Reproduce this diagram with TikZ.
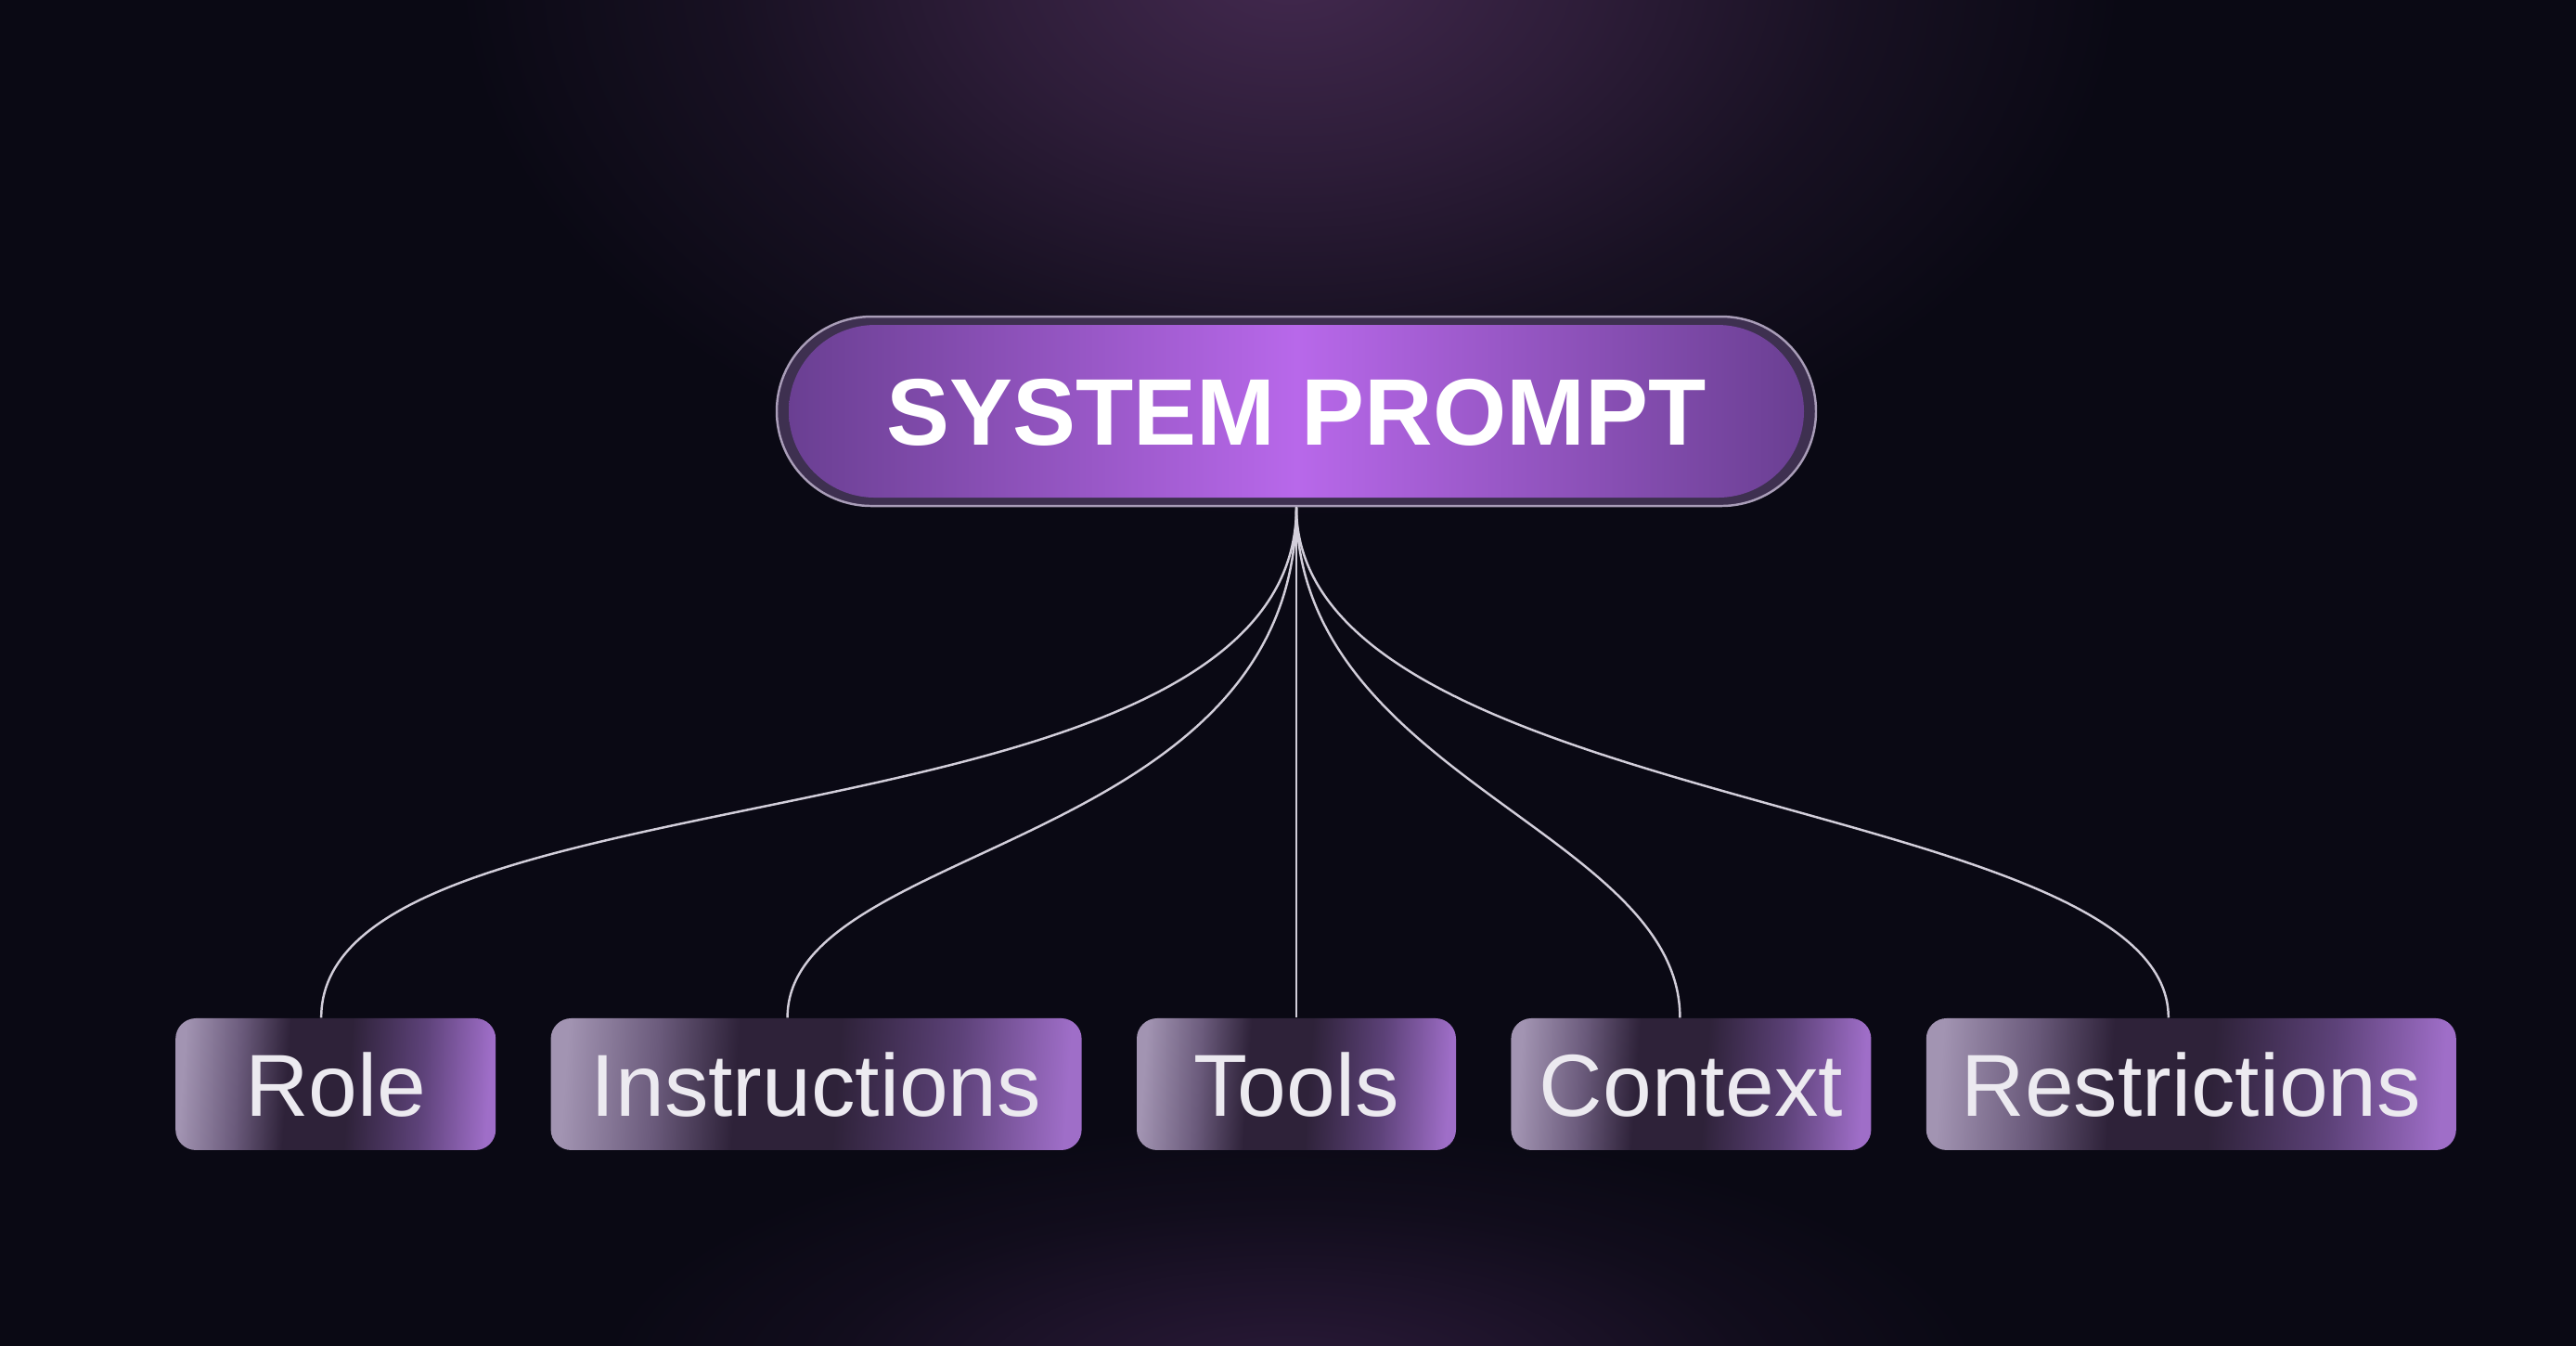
\documentclass[tikz,border=0pt]{standalone}
\usepackage{fontspec}
\setmainfont{Liberation Sans}
\usepackage{xcolor}
\usepackage{tikz}
\usetikzlibrary{positioning}

% colours
\definecolor{bgdark}{HTML}{0A0914}
\definecolor{glowtop}{HTML}{43294F}
\definecolor{glowlow}{HTML}{2B1A39}
\colorlet{glowtopB}{glowtop!62!bgdark}
\colorlet{glowtopC}{glowtop!24!bgdark}
\colorlet{glowlowB}{glowlow!60!bgdark}
\colorlet{glowlowC}{glowlow!22!bgdark}
\definecolor{rimline}{HTML}{A99DB8}
\definecolor{rimfill}{HTML}{3E3050}
\definecolor{pillside}{HTML}{683E90}
\definecolor{pillmid}{HTML}{B868EA}
\definecolor{chipA}{HTML}{A294B2}
\definecolor{chipB}{HTML}{6B5B7C}
\definecolor{chipC}{HTML}{2E2239}
\definecolor{chipD}{HTML}{5D4279}
\definecolor{chipE}{HTML}{9F6EC8}
\definecolor{chiptext}{HTML}{ECEAF0}
\definecolor{linkgray}{HTML}{D2CEDA}

% shadings
\pgfdeclareradialshading{topglow}{\pgfpointorigin}{color(0bp)=(glowtop); color(9bp)=(glowtopB); color(17bp)=(glowtopC); color(25bp)=(bgdark); color(50bp)=(bgdark)}
\pgfdeclareradialshading{lowglow}{\pgfpointorigin}{color(0bp)=(glowlow); color(9bp)=(glowlowB); color(17bp)=(glowlowC); color(25bp)=(bgdark); color(50bp)=(bgdark)}
\pgfdeclarehorizontalshading{chipshade}{100bp}{color(0bp)=(chipA); color(25bp)=(chipA); color(34bp)=(chipB); color(42bp)=(chipC); color(52bp)=(chipC); color(64bp)=(chipD); color(75bp)=(chipE); color(100bp)=(chipE)}

\tikzset{
  sysbox/.style={rectangle, rounded corners=1.02cm, minimum width=11.2cm, minimum height=2.04cm,
    draw=rimline, line width=0.7pt, fill=rimfill, text=white,
    font=\fontsize{29pt}{34pt}\selectfont\bfseries, text height=20.8pt, text depth=0pt,
    path picture={\shade[left color=pillside, right color=pillside, middle color=pillmid, rounded corners=0.93cm]
      ([shift={(0.13,0.09)}]path picture bounding box.south west) rectangle
      ([shift={(-0.13,-0.09)}]path picture bounding box.north east);}},
  chip/.style={rectangle, rounded corners=0.22cm, shade, shading=chipshade, shading angle=-4,
    minimum height=1.42cm,
    text=chiptext, font=\fontsize{27pt}{32pt}\selectfont, text height=19.4pt, text depth=0pt},
  link/.style={draw=linkgray, line width=0.7pt}
}

\begin{document}
\begin{tikzpicture}
		[node distance=0.58cm]
		\useasboundingbox (0,0) rectangle (27.76,14.5);
		% background %
		\fill[bgdark] (0,0) rectangle (27.76,14.5);
		\begin{scope}
		\clip (0,0) rectangle (27.76,14.5);
		\shade[shading=topglow] (13.9,14.9) ellipse (9 and 6);
		\shade[shading=lowglow] (13.9,-0.4) ellipse (7.5 and 2.8);
		\end{scope}

		% nodes %
		\node[chip, minimum width=3.44cm] (tools) at (13.97,2.82) {Tools};
		\node[chip, minimum width=5.72cm, left=of tools] (instr) {Instructions};
		\node[chip, minimum width=3.45cm, left=of instr] (role) {Role};
		\node[chip, minimum width=3.88cm, right=of tools] (context) {Context};
		\node[chip, minimum width=5.71cm, right=of context] (restr) {Restrictions};
		\node[sysbox, above=5.5cm of tools] (sp) {SYSTEM PROMPT};

		% edges %
		\draw[link] (sp.south) .. controls +(0,-3.8) and +(0,2.8) .. ([xshift=-0.155cm]role.north);
		\draw[link] (sp.south) .. controls +(0,-3.7) and +(0,1.9) .. ([xshift=-0.31cm]instr.north);
		\draw[link] (sp.south) -- (tools.north);
		\draw[link] (sp.south) .. controls +(0,-2.9) and +(0,2.0) .. ([xshift=-0.12cm]context.north);
		\draw[link] (sp.south) .. controls +(0,-3.3) and +(0,2.4) .. ([xshift=-0.245cm]restr.north);
\end{tikzpicture}
\end{document}
